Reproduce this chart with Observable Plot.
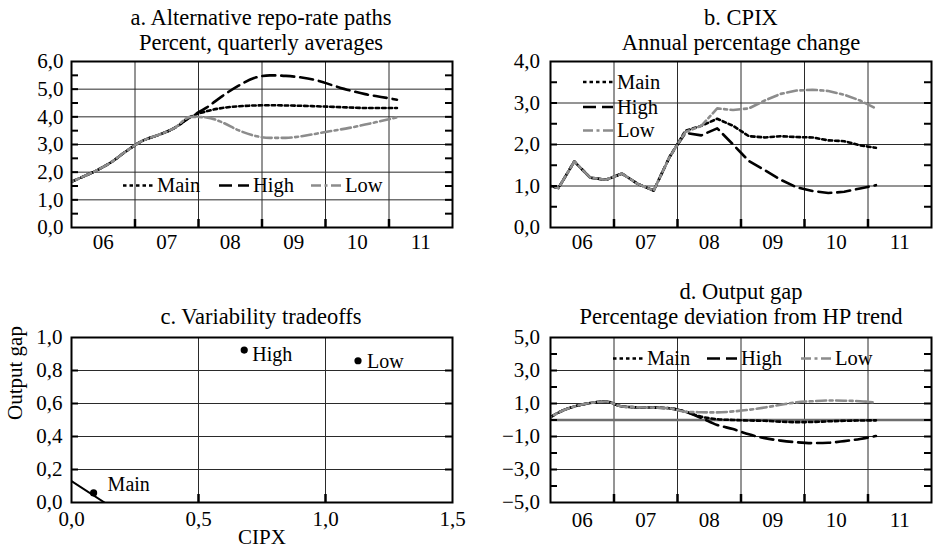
<!DOCTYPE html>
<html><head><meta charset="utf-8">
<script src="https://cdn.jsdelivr.net/npm/d3@7"></script>
<script src="https://cdn.jsdelivr.net/npm/@observablehq/plot@0.6"></script>
<style>
html,body{margin:0;padding:0;background:#fff;}
#root{position:relative;width:936px;height:552px;font-family:'Liberation Serif',serif;overflow:hidden;}
</style></head><body><div id="root"></div>
<script>
// ---------- data ----------
const quarters = ["2005Q4","2006Q1","2006Q2","2006Q3","2006Q4","2007Q1","2007Q2","2007Q3","2007Q4",
  "2008Q1","2008Q2","2008Q3","2008Q4","2009Q1","2009Q2","2009Q3","2009Q4",
  "2010Q1","2010Q2","2010Q3","2010Q4","2011Q1"];
const seriesNames = ["Main","High","Low"];

// a. repo rate, percent
const repoMain = [1.53,1.78,2.04,2.36,2.78,3.14,3.35,3.60,4.00,4.20,4.32,4.38,4.41,4.42,4.41,4.40,4.38,4.36,4.34,4.32,4.32,4.32];
const repoHigh = [1.53,1.78,2.04,2.36,2.78,3.14,3.35,3.60,4.00,4.33,4.75,5.12,5.40,5.50,5.48,5.42,5.31,5.13,4.96,4.82,4.72,4.62];
const repoLow  = [1.53,1.78,2.04,2.36,2.78,3.14,3.35,3.60,4.00,3.98,3.80,3.52,3.32,3.24,3.24,3.30,3.40,3.50,3.60,3.72,3.85,3.98];

// b. CPIX, annual percentage change
const cpixMain = [1.05,0.95,1.59,1.20,1.15,1.30,1.05,0.89,1.70,2.33,2.45,2.62,2.45,2.20,2.17,2.20,2.18,2.17,2.10,2.08,1.98,1.92];
const cpixHigh = [1.05,0.95,1.59,1.20,1.15,1.30,1.05,0.89,1.70,2.28,2.22,2.39,2.00,1.60,1.38,1.15,0.97,0.88,0.83,0.86,0.94,1.02];
const cpixLow  = [1.05,0.95,1.59,1.20,1.15,1.30,1.05,0.89,1.70,2.30,2.45,2.87,2.83,2.87,3.06,3.22,3.30,3.32,3.29,3.20,3.06,2.87];

// d. output gap, percentage deviation from HP trend
const gapMain = [-0.15,0.45,0.82,1.03,1.12,0.82,0.77,0.75,0.71,0.50,0.20,0.05,0.00,-0.03,-0.05,-0.10,-0.13,-0.12,-0.08,-0.05,-0.03,-0.02];
const gapHigh = [-0.15,0.45,0.82,1.03,1.12,0.82,0.77,0.75,0.71,0.50,0.12,-0.30,-0.55,-0.87,-1.10,-1.25,-1.35,-1.40,-1.38,-1.28,-1.15,-0.97];
const gapLow  = [-0.15,0.45,0.82,1.03,1.12,0.82,0.77,0.75,0.71,0.50,0.47,0.46,0.52,0.62,0.76,0.92,1.07,1.14,1.18,1.17,1.14,1.05];

// c. variability tradeoffs
const tradeoffLabels = ["Main","High","Low"];
const cpixVariability = [0.087,0.68,1.128];
const gapVariability = [0.058,0.924,0.859];
const frontierCpix = [0,0.13];
const frontierGap = [0.13,0];

// ticks
const yearStarts = [2006,2007,2008,2009,2010,2011];
const yearLabels = ["06","07","08","09","10","11"];
const ticksA = [0,1,2,3,4,5,6];
const minorA = [0.5,1,1.5,2,2.5,3,3.5,4,4.5,5,5.5];
const ticksB = [0,1,2,3,4];
const minorB = [0.5,1,1.5,2,2.5,3,3.5];
const ticksD = [-5,-3,-1,1,3,5];
const minorD = [-4,-3,-2,-1,0,1,2,3,4];
const ticksCx = [0,0.5,1,1.5];
const ticksCy = [0,0.2,0.4,0.6,0.8,1];

// ---------- helpers ----------
const qToYear = q => +q.slice(0,4) + (+q[5]-1)/4 + 0.125;
const fmt1 = d => d3.format(".1f")(d).replace(".", ",");
const style = {
  Main: {stroke:"#000", dash:"3.5,3"},
  High: {stroke:"#000", dash:"13,6"},
  Low:  {stroke:"#8c8c8c", dash:"10,3.5,3,3.5"}
};
const LW = 2.6;
const FONT = "'Liberation Serif', serif";
const TICKFS = "21px";
const root = document.getElementById("root");

function rowsOf(arrays){
  const out = [];
  seriesNames.forEach((name,k)=>{
    quarters.forEach((q,i)=>out.push({t:qToYear(q), v:arrays[k][i], series:name}));
  });
  return out;
}

function place(svg,left,top){
  svg.style.position="absolute";
  svg.style.left=left+"px";
  svg.style.top=top+"px";
  root.appendChild(svg);
}

function timePanel(o){
  const rows = rowsOf(o.arrays);
  const fw = o.width - o.ml - o.mr, fh = o.height - o.mt - o.mb;
  const marks = [
    Plot.ruleY(o.ticks.filter(v=>v>o.domain[0]&&v<o.domain[1]), {y:d=>d, stroke:"#2a2a2a", strokeWidth:1}),
    Plot.ruleX(yearStarts.slice(1), {x:d=>d, stroke:"#2a2a2a", strokeWidth:1}),
    ...(o.extra||[]),
    ...seriesNames.map(name=>Plot.line(rows.filter(r=>r.series===name), {
      x:"t", y:"v", stroke:style[name].stroke, strokeWidth:LW,
      strokeDasharray:style[name].dash, curve:o.curve, clip:true})),
    Plot.tickY(o.minor, {y:d=>d, insetRight:fw-7, strokeWidth:2}),
    Plot.tickY(o.minor, {y:d=>d, insetLeft:fw-7, strokeWidth:2}),
    Plot.tickX(yearStarts.slice(1), {x:d=>d, insetTop:fh-8, strokeWidth:2.5}),
    Plot.frame({stroke:"#000", strokeWidth:2}),
    Plot.axisY({ticks:o.ticks, tickFormat:fmt1, tickSize:0, tickPadding:o.padY, label:null}),
    Plot.axisX({ticks:yearStarts.map(y=>y+0.5), tickFormat:d=>yearLabels[yearStarts.indexOf(Math.floor(d))], tickSize:0, tickPadding:o.padX, label:null})
  ];
  return Plot.plot({
    width:o.width, height:o.height,
    marginLeft:o.ml, marginRight:o.mr, marginTop:o.mt, marginBottom:o.mb,
    x:{domain:[2006,2012]},
    y:{domain:o.domain},
    style:{fontFamily:FONT, fontSize:TICKFS, background:"transparent", overflow:"visible", color:"#000"},
    marks
  });
}

// a
place(timePanel({arrays:[repoMain,repoHigh,repoLow], domain:[0,6], ticks:ticksA, minor:minorA,
  curve:"monotone-x", width:468, height:260, ml:71, mr:16, mt:61, mb:33, padY:8, padX:7}), 0, 0);
// b
place(timePanel({arrays:[cpixMain,cpixHigh,cpixLow], domain:[0,4], ticks:ticksB, minor:minorB,
  curve:"linear", width:468, height:260, ml:82, mr:5, mt:61, mb:33, padY:10.5, padX:7}), 468, 0);
// d
place(timePanel({arrays:[gapMain,gapHigh,gapLow], domain:[-5,5], ticks:ticksD, minor:minorD,
  curve:"monotone-x", width:468, height:282, ml:82, mr:5, mt:67, mb:50, padY:10.5, padX:10,
  extra:[Plot.ruleY([0], {y:d=>d, stroke:"#6e6e6e", strokeWidth:2.5})]}), 468, 270);

// c
(function(){
  const W=468,H=282,ml=71,mr=16,mt=67,mb=50;
  const fw=W-ml-mr, fh=H-mt-mb;
  const pts = tradeoffLabels.map((l,i)=>({label:l, x:cpixVariability[i], y:gapVariability[i]}));
  const frontier = frontierCpix.map((x,i)=>({x, y:frontierGap[i]}));
  const labelOffsets = {Main:{dx:14,dy:-8}, High:{dx:8,dy:5}, Low:{dx:9,dy:1}};
  const svg = Plot.plot({
    width:W, height:H, marginLeft:ml, marginRight:mr, marginTop:mt, marginBottom:mb,
    x:{domain:[0,1.5]}, y:{domain:[0,1]},
    style:{fontFamily:FONT, fontSize:TICKFS, background:"transparent", overflow:"visible", color:"#000"},
    marks:[
      Plot.ruleY(ticksCy.filter(v=>v>0&&v<1), {y:d=>d, stroke:"#2a2a2a", strokeWidth:1}),
      Plot.ruleX(ticksCx.filter(v=>v>0&&v<1.5), {x:d=>d, stroke:"#2a2a2a", strokeWidth:1}),
      Plot.line(frontier, {x:"x", y:"y", stroke:"#000", strokeWidth:2, clip:true}),
      Plot.dot(pts, {x:"x", y:"y", r:3.6, fill:"#000"}),
      ...pts.map(p=>Plot.text([p], {x:"x", y:"y", text:"label", textAnchor:"start", fontSize:20,
        dx:labelOffsets[p.label].dx, dy:labelOffsets[p.label].dy})),
      Plot.tickY(ticksCy.filter(v=>v>0&&v<1), {y:d=>d, insetRight:fw-7, strokeWidth:2}),
      Plot.tickY(ticksCy.filter(v=>v>0&&v<1), {y:d=>d, insetLeft:fw-7, strokeWidth:2}),
      Plot.tickX(ticksCx.filter(v=>v>0&&v<1.5), {x:d=>d, insetTop:fh-8, strokeWidth:2.5}),
      Plot.frame({stroke:"#000", strokeWidth:2}),
      Plot.axisY({ticks:ticksCy, tickFormat:fmt1, tickSize:0, tickPadding:9, label:null}),
      Plot.axisX({ticks:ticksCx, tickFormat:fmt1, tickSize:0, tickPadding:9, label:null}),
      Plot.text(["Output gap"], {text:d=>d, frameAnchor:"left", rotate:-90, dx:-56}),
      Plot.text(["CIPX"], {text:d=>d, frameAnchor:"bottom", dy:41})
    ]
  });
  place(svg, 0, 270);
})();

// ---------- titles and legends overlay ----------
const ov = d3.select(root).append("svg")
  .attr("width",936).attr("height",552)
  .style("position","absolute").style("left","0px").style("top","0px")
  .style("font-family",FONT).style("pointer-events","none");

const titles = [
  {text:"a. Alternative repo-rate paths", x:261, y:24.5},
  {text:"Percent, quarterly averages", x:261, y:50},
  {text:"b. CPIX", x:741, y:24.5},
  {text:"Annual percentage change", x:741, y:50},
  {text:"c. Variability tradeoffs", x:261, y:323.5},
  {text:"d. Output gap", x:741, y:298.5},
  {text:"Percentage deviation from HP trend", x:741, y:323.5}
];
ov.selectAll("text.title").data(titles).join("text").attr("class","title")
  .attr("x",d=>d.x).attr("y",d=>d.y).attr("text-anchor","middle")
  .style("font-size","22.5px").text(d=>d.text);

const legendItems = [
  // panel a
  {name:"Main", x:123, y:192}, {name:"High", x:219, y:192}, {name:"Low", x:311, y:192},
  // panel b
  {name:"Main", x:583, y:88.5}, {name:"High", x:583, y:113.5}, {name:"Low", x:583, y:137},
  // panel d
  {name:"Main", x:613, y:365}, {name:"High", x:707, y:365}, {name:"Low", x:801, y:365}
];
const lg = ov.selectAll("g.leg").data(legendItems).join("g").attr("class","leg");
lg.append("line").attr("x1",d=>d.x).attr("x2",d=>d.x+30).attr("y1",d=>d.y-6.5).attr("y2",d=>d.y-6.5)
  .attr("stroke",d=>style[d.name].stroke).attr("stroke-width",LW).attr("stroke-dasharray",d=>style[d.name].dash);
lg.append("text").attr("x",d=>d.x+34).attr("y",d=>d.y).style("font-size","20.5px").text(d=>d.name);
</script></body></html>
